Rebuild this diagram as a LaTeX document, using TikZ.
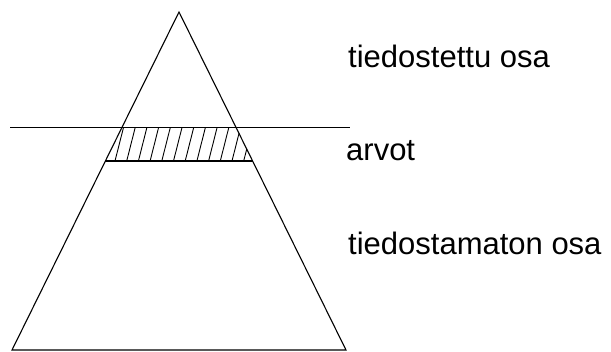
\documentclass[tikz,border=0pt]{standalone}
\usepackage{fontspec}
\setmainfont{Liberation Sans}
\usepackage{tikz}
\usetikzlibrary{calc}

\begin{document}
\begin{tikzpicture}[x={(1pt,0pt)}, y={(0pt,-1pt)},
    edge/.style={line width=1.1pt, black},
    label/.style={anchor=base west, inner sep=0pt, font=\fontsize{31}{37}\selectfont}]

    \useasboundingbox (0,0) rectangle (611,352);

    % --- Kolmio ---
    \coordinate (apex) at (179,12);
    \coordinate (bl) at (12,350);
    \coordinate (br) at (346,350);
    \draw[edge] (apex) -- (bl) -- (br) -- cycle;

    % --- Raja ja arvojen kaista ---
    \coordinate (lineL) at (10,127.5);
    \coordinate (lineR) at (350,127.5);
    \draw[edge] (lineL) -- (lineR);

    \coordinate (bandTL) at (121.5,127.5);
    \coordinate (bandTR) at (236.5,127.5);
    \coordinate (bandBL) at (105,161);
    \coordinate (bandBR) at (253,161);
    \draw[edge] (bandBL) -- (bandBR);

    % viivoitus
    \begin{scope}
        \clip (bandTL) -- (bandTR) -- (bandBR) -- (bandBL) -- cycle;
        \foreach \x in {103.3, 115, ..., 260}
            \draw[line width=0.9pt] (\x,161) -- ({\x+8.5},127.5);
    \end{scope}

    % --- Tekstit ---
    \node[label] (conscious) at (348,68) {tiedostettu osa};
    \node[label] (values) at (346,161) {arvot};
    \node[label] (unconscious) at (348,255) {tiedostamaton osa};

\end{tikzpicture}
\end{document}
